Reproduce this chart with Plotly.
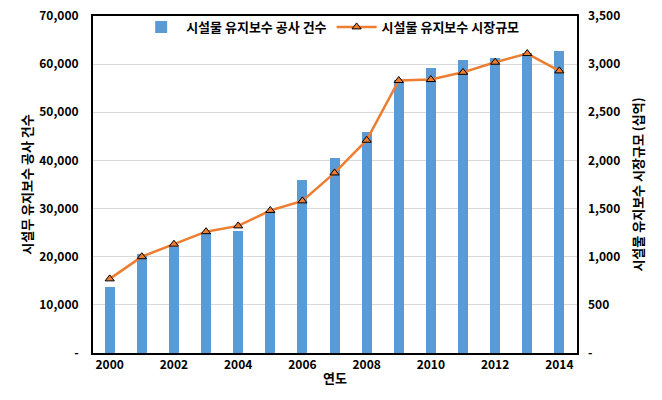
import plotly.graph_objects as go

years = list(range(2000, 2015))
repair_counts = [13800, 20600, 22000, 25000, 25400, 29500, 36000, 40500,
                 46000, 56700, 59200, 60900, 61200, 62300, 62800]
market_size = [770, 1000, 1130, 1260, 1320, 1480, 1580, 1870,
               2210, 2830, 2840, 2915, 3020, 3110, 2930]

left_ticks = [0, 10000, 20000, 30000, 40000, 50000, 60000, 70000]
left_labels = ["-", "10,000", "20,000", "30,000", "40,000", "50,000", "60,000", "70,000"]
right_ticks = [0, 500, 1000, 1500, 2000, 2500, 3000, 3500]
right_labels = ["-", "500", "1,000", "1,500", "2,000", "2,500", "3,000", "3,500"]
x_ticks = [2000, 2002, 2004, 2006, 2008, 2010, 2012, 2014]

series_bar = "시설물 유지보수 공사 건수"
series_line = "시설물 유지보수 시장규모"

FONT = "Noto Sans CJK KR"

fig = go.Figure()
fig.add_trace(go.Bar(
    x=years, y=repair_counts, name=series_bar,
    marker=dict(color="#5B9BD5", line=dict(width=0)),
    width=0.31, yaxis="y"))
fig.add_trace(go.Scatter(
    x=years, y=market_size, name=series_line, mode="lines+markers",
    line=dict(color="#ED7D31", width=2.5),
    marker=dict(symbol="triangle-up", size=8, color="#ED7D31",
                line=dict(color="black", width=1)),
    yaxis="y2"))

fig.update_layout(
    width=662, height=400,
    margin=dict(l=93, r=85, t=16, b=47, autoexpand=False),
    paper_bgcolor="white", plot_bgcolor="white",
    font=dict(family=FONT, size=12, color="black"),
    showlegend=True,
    legend=dict(orientation="h", x=0.49, xanchor="center", y=1.012, yanchor="top",
                font=dict(family=FONT, size=13, color="black", weight="bold"),
                bgcolor="rgba(255,255,255,0)", itemwidth=40, traceorder="normal"),
    xaxis=dict(range=[1999.48, 2014.55], tickvals=x_ticks, automargin=False,
               tickfont=dict(family=FONT, size=12, weight="bold"),
               showgrid=False, showline=True, linecolor="black", linewidth=2,
               mirror=True, ticks="", ticklen=0,
               title=dict(text="연도", font=dict(family=FONT, size=13, weight="bold"),
                          standoff=2)),
    yaxis=dict(range=[0, 70000], tickvals=left_ticks, ticktext=left_labels,
               automargin=False,
               tickfont=dict(family=FONT, size=12, weight="bold"),
               showgrid=True, gridcolor="#D9D9D9", gridwidth=1,
               showline=True, linecolor="black", linewidth=2, mirror=True,
               zeroline=False, ticks="", ticklabelstandoff=10,
               title=dict(text="시설무 유지보수 공사 건수",
                          font=dict(family=FONT, size=13, weight="bold"), standoff=4)),
    yaxis2=dict(range=[0, 3500], tickvals=right_ticks, ticktext=right_labels,
                automargin=False,
                overlaying="y", side="right", showgrid=False, zeroline=False,
                tickfont=dict(family=FONT, size=12, weight="bold"),
                ticks="", ticklabelstandoff=10,
                title=dict(text="시설물 유지보수 시장규모 (십억)",
                           font=dict(family=FONT, size=13, weight="bold"), standoff=14)),
    bargap=0,
)

fig.write_html("out.html", config={"displayModeBar": False},
               post_script="document.body.style.margin='0';")
